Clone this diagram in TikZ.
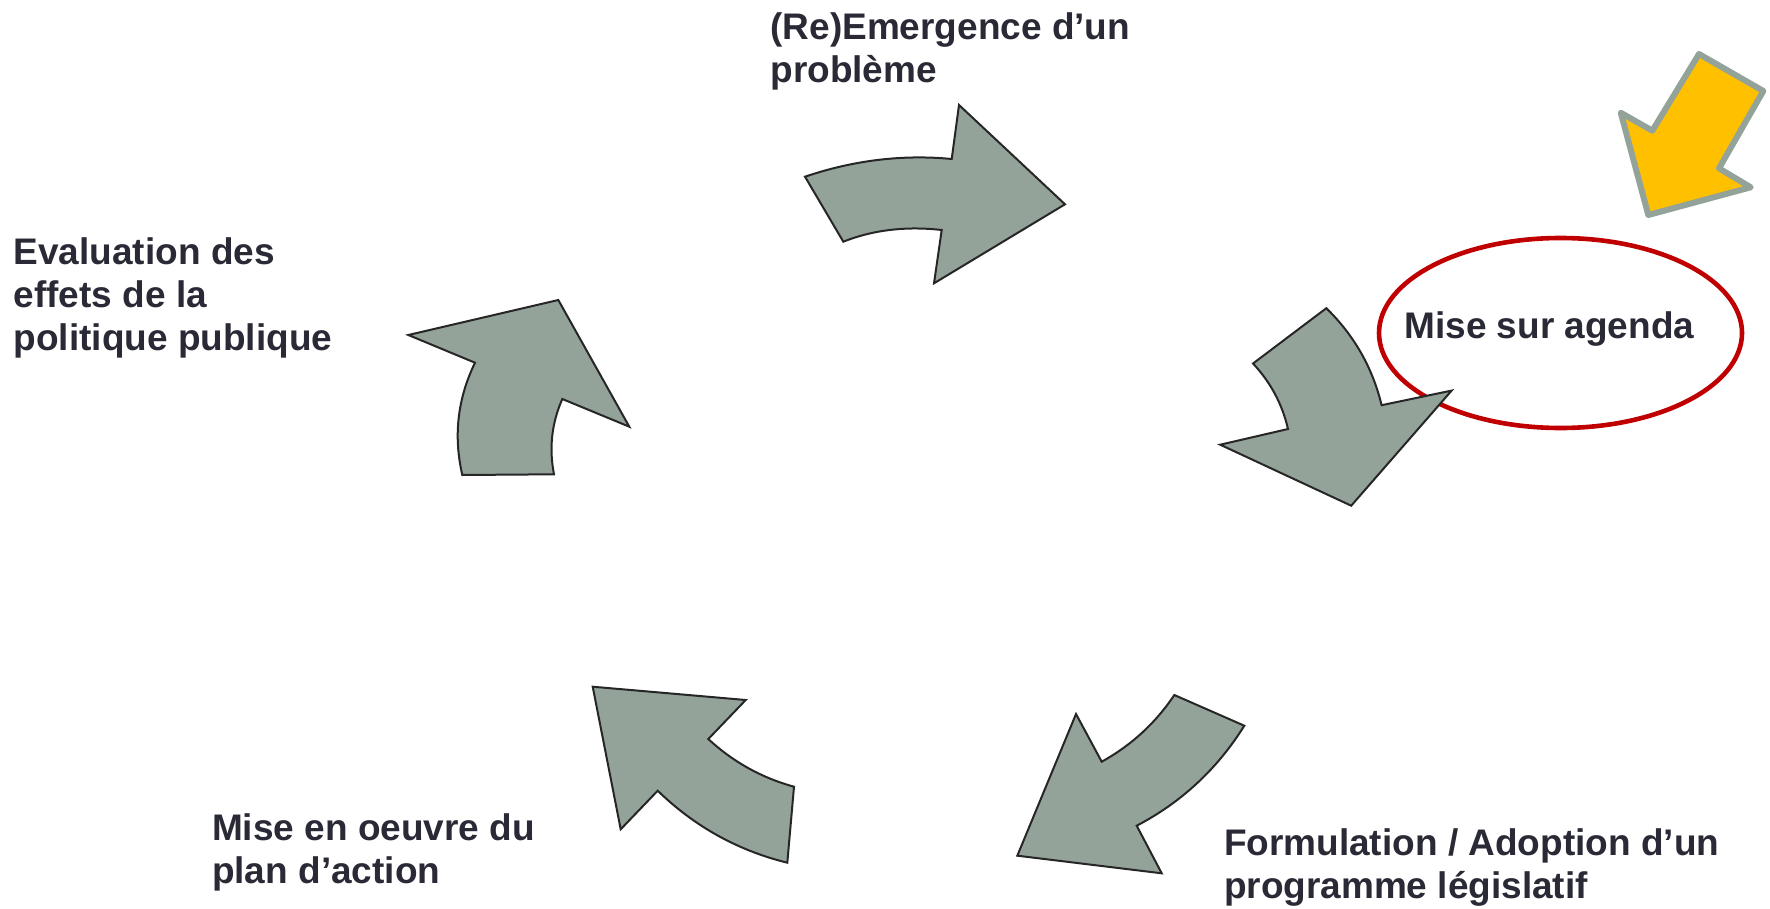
\documentclass[tikz,border=0pt]{standalone}
\usepackage{fontspec}
\setmainfont{Liberation Sans}
\definecolor{arrowgray}{HTML}{94A399}
\definecolor{textdark}{HTML}{2A2A36}
\definecolor{agendared}{HTML}{C00000}
\definecolor{pointeryellow}{HTML}{FFC000}

\begin{document}
\begin{tikzpicture}[
    x=0.5pt, y=-0.5pt,
    cyclearrow/.style={fill=arrowgray, draw=black!85, line width=1pt, line join=miter},
    stagelabel/.style={anchor=base west, inner sep=0pt, align=left, text=textdark,
        font=\fontsize{18.5}{21.5}\selectfont\bfseries}
]
    \useasboundingbox (0,0) rectangle (1770,909);

    % Highlighted stage (under the arrows)
    \draw[agendared, line width=2.3pt] (1560.5,333) ellipse [x radius=181.5, y radius=95];

    % Cycle arrows
    \draw[cyclearrow] (843.3,241.7) .. controls (873.1,229.9) and (905.9,226) .. (941.7,230) -- (934,283.3)
        -- (1065,204.3) -- (959,105) -- (951.7,159) .. controls (902.6,154.3) and (853.7,160.2) .. (805,176.7) -- cycle;
    \draw[cyclearrow] (1253,363.5) .. controls (1270.5,382.2) and (1282.2,404) .. (1288,429) -- (1220.2,444.7)
        -- (1351.2,505.7) -- (1451.6,390.6) -- (1381.6,405.2) .. controls (1372.5,367.5) and (1354,335.2) .. (1326.3,308.2) -- cycle;
    \draw[cyclearrow] (1244.3,725.7) .. controls (1217.4,768.8) and (1181.6,802.2) .. (1136.7,825.7) -- (1161.7,873.3)
        -- (1017.3,855.7) -- (1076,714) -- (1101.7,761.7) .. controls (1131.3,745.3) and (1155.5,723.1) .. (1174.3,695) -- cycle;
    \draw[cyclearrow] (787.3,862.7) .. controls (737.6,850.4) and (694.4,826.4) .. (657.7,790.7) -- (620.7,829.3)
        -- (592.7,686.7) -- (745.7,700) -- (708.3,739) .. controls (733,761.9) and (761.6,777.8) .. (794,786.7) -- cycle;
    \draw[cyclearrow] (462.3,475) .. controls (453.3,436.1) and (457.5,398.7) .. (475,362.7) -- (408.3,335)
        -- (558.3,300) -- (629.3,426.7) -- (562.3,399) .. controls (551.6,423.3) and (548.9,448.4) .. (554,474.3) -- cycle;

    % Pointer to the agenda stage
    \draw[fill=pointeryellow, draw=arrowgray, line width=3pt, line join=round]
        (1699,54) -- (1763.3,91) -- (1719,168.3) -- (1750.7,187.3) -- (1648.3,215)
        -- (1620.7,112.7) -- (1652.3,130.7) -- cycle;

    % Stage labels (anchored on the baseline of their last line)
    \node[stagelabel] (emergence) at (770,83) {(Re)Emergence d’un\\problème};
    \node[stagelabel] (agenda) at (1404,338.6) {Mise sur agenda};
    \node[stagelabel] (formulation) at (1223.6,898) {Formulation / Adoption d’un\\programme législatif};
    \node[stagelabel] (miseoeuvre) at (211.7,883) {Mise en oeuvre du\\plan d’action};
    \node[stagelabel] (evaluation) at (13.3,350) {Evaluation des\\effets de la\\politique publique};
\end{tikzpicture}
\end{document}
